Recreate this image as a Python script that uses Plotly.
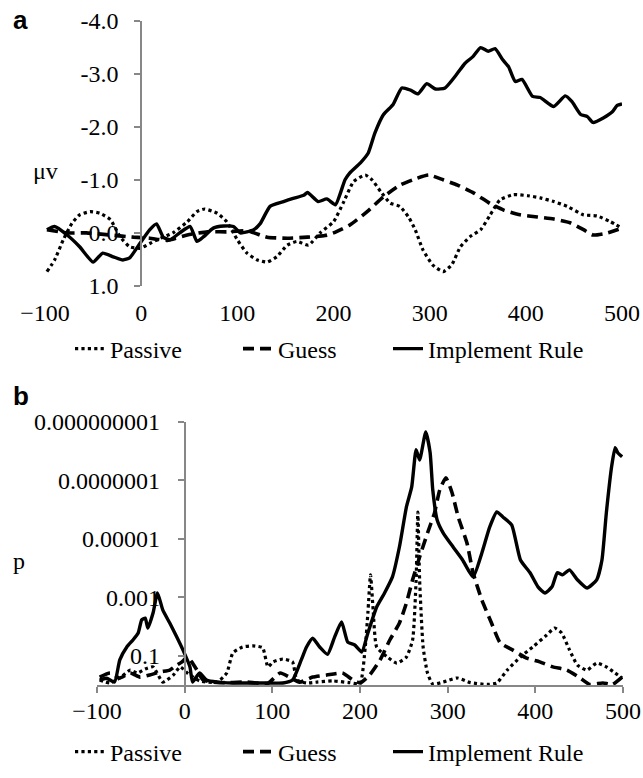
import plotly.graph_objects as go

W, H = 643, 778

# ---- panel a: ERP amplitude (uV), y axis reversed ----
t_rule_a = [-98, -90, -77, -64, -50, -40, -29, -19, -12, -1, 9, 16, 23, 30, 40, 51, 58, 65, 75, 86,
            96, 103, 117, 124, 134, 148, 158, 169, 173, 184, 193, 202, 212, 217, 228, 236, 243, 252,
            262, 271, 280, 288, 297, 306, 316, 327, 337, 345, 353, 361, 368, 376, 382, 389, 396, 407,
            415, 429, 441, 448, 457, 464, 470, 481, 490, 495, 500]
v_rule_a = [-0.06, -0.12, 0.04, 0.26, 0.55, 0.38, 0.45, 0.51, 0.47, 0.19, -0.06, -0.17, 0.08, 0.13,
            0.0, -0.12, 0.16, 0.07, -0.09, -0.13, -0.12, 0.0, -0.06, -0.18, -0.5, -0.59, -0.65, -0.71,
            -0.76, -0.59, -0.64, -0.53, -1.0, -1.13, -1.32, -1.5, -1.88, -2.23, -2.42, -2.73, -2.69,
            -2.62, -2.81, -2.71, -2.73, -2.96, -3.2, -3.32, -3.49, -3.42, -3.47, -3.26, -3.13, -2.85,
            -2.89, -2.57, -2.55, -2.38, -2.58, -2.47, -2.23, -2.19, -2.08, -2.17, -2.28, -2.4, -2.43]

t_guess_a = [-98, -77, -57, -32, -8, 9, 27, 48, 69, 89, 110, 131, 152, 173, 191, 200, 217, 235, 252,
             269, 287, 299, 314, 329, 346, 363, 377, 394, 412, 429, 446, 460, 470, 485, 500]
v_guess_a = [-0.06, 0.0, 0.0, 0.04, 0.08, 0.1, 0.14, 0.04, -0.02, -0.02, -0.04, 0.08, 0.1, 0.08,
             0.05, 0.0, -0.15, -0.4, -0.68, -0.9, -1.03, -1.09, -1.0, -0.9, -0.75, -0.55, -0.43,
             -0.34, -0.3, -0.26, -0.19, -0.06, 0.04, 0.0, -0.09]

t_passive_a = [-98, -90, -81, -72, -64, -53, -43, -32, -22, -12, -1, 9, 20, 33, 48, 58, 66, 79, 89,
               100, 110, 121, 131, 141, 152, 162, 174, 186, 200, 210, 221, 233, 240, 249, 259, 269,
               278, 285, 293, 303, 314, 323, 332, 342, 353, 363, 373, 387, 402, 415, 429, 443, 460,
               474, 488, 500]
v_passive_a = [0.73, 0.51, 0.13, -0.18, -0.34, -0.4, -0.37, -0.25, 0.07, 0.26, 0.29, 0.2, 0.1, 0.0,
               -0.21, -0.4, -0.45, -0.37, -0.21, 0.13, 0.38, 0.51, 0.55, 0.45, 0.23, 0.16, 0.23, 0.0,
               -0.21, -0.56, -0.97, -1.09, -1.0, -0.78, -0.56, -0.5, -0.3, -0.06, 0.32, 0.6, 0.73,
               0.6, 0.26, 0.07, -0.06, -0.34, -0.62, -0.72, -0.7, -0.66, -0.59, -0.5, -0.34, -0.32,
               -0.21, -0.09]

# ---- panel b: p values, given as log10(p) ----
t_rule_b = [-97, -89, -80, -74, -66, -59, -53, -49, -45, -42, -36, -31, -25, -17, -9, -2, 6, 9, 17,
            25, 37, 55, 86, 112, 123, 133, 139, 146, 154, 163, 171, 179, 186, 194, 202, 209, 219, 228,
            237, 245, 253, 259, 264, 268, 275, 280, 283, 288, 295, 306, 317, 329, 339, 348, 356, 363,
            373, 383, 394, 403, 411, 419, 425, 431, 439, 448, 459, 470, 476, 481, 487, 491, 494, 499]
lp_rule_b = [-0.17, -0.23, -0.1, -0.86, -1.3, -1.54, -1.78, -2.23, -2.29, -1.95, -2.47, -3.15, -2.57,
             -2.12, -1.64, -1.2, -0.62, -0.1, -0.41, -0.17, -0.1, -0.07, -0.07, -0.07, -0.17, -0.86,
             -1.3, -1.6, -1.3, -1.05, -1.64, -2.16, -1.47, -1.37, -1.13, -1.78, -2.67, -3.15, -3.7,
             -4.73, -6.1, -6.78, -8.05, -7.7, -8.66, -7.95, -6.68, -5.65, -5.2, -4.73, -4.28, -3.7,
             -4.52, -5.41, -5.92, -5.75, -5.48, -4.28, -3.84, -3.36, -3.15, -3.36, -3.84, -3.77,
             -3.94, -3.6, -3.32, -3.6, -4.28, -5.89, -7.47, -8.12, -7.95, -7.81]

t_guess_b = [-97, -85, -74, -62, -51, -40, -28, -17, -9, -3, 3, 8, 14, 21, 40, 70, 95, 109, 131, 146,
             162, 180, 192, 200, 211, 223, 234, 245, 253, 260, 268, 277, 285, 291, 298, 305, 312,
             322, 329, 339, 350, 360, 374, 390, 405, 420, 436, 451, 462, 477, 488, 499]
lp_guess_b = [-0.27, -0.41, -0.24, -0.41, -0.27, -0.34, -0.45, -0.51, -0.68, -0.79, -0.96, -0.79,
              -0.51, -0.17, -0.08, -0.1, -0.06, -0.41, -0.1, -0.27, -0.34, -0.41, -0.17, -0.07,
              -0.34, -0.86, -1.54, -2.12, -2.81, -3.6, -4.38, -5.2, -5.89, -6.68, -7.09, -6.58,
              -5.75, -4.86, -3.84, -2.91, -2.12, -1.44, -1.2, -0.92, -0.79, -0.62, -0.51, -0.24,
              -0.02, -0.07, -0.02, -0.27]

t_passive_b = [-97, -85, -74, -62, -54, -45, -36, -25, -13, -5, 3, 17, 37, 48, 55, 66, 78, 89, 95,
               101, 112, 123, 128, 139, 151, 169, 188, 200, 206, 209, 212, 215, 219, 231, 242, 253,
               260, 264, 266, 268, 272, 277, 283, 295, 311, 326, 345, 356, 368, 383, 397, 413, 422,
               430, 439, 448, 459, 470, 481, 491, 499]
lp_passive_b = [-0.17, -0.07, -0.24, -0.51, -0.41, -0.55, -0.62, -0.1, -0.34, -0.62, -0.41, -0.14,
                -0.1, -0.41, -1.1, -1.3, -1.34, -1.27, -0.62, -0.79, -0.89, -0.79, -0.17, -0.07,
                -0.1, -0.14, -0.08, -0.05, -1.3, -2.47, -3.77, -2.57, -1.3, -0.96, -0.75, -0.96,
                -1.54, -3.6, -5.92, -3.6, -1.3, -0.41, -0.03, -0.1, -0.24, -0.08, -0.02, -0.07,
                -0.51, -0.96, -1.3, -1.71, -1.95, -1.78, -1.2, -0.68, -0.51, -0.75, -0.62, -0.41,
                -0.24]

x_ticks = [-100, 0, 100, 200, 300, 400, 500]
a_ticks = [-4, -3, -2, -1, 0, 1]
a_ticktext = ['-4.0', '-3.0', '-2.0', '-1.0', '0.0', '1.0']
b_ticks = [1e-9, 1e-7, 1e-5, 1e-3, 1e-1]
b_ticktext = ['0.000000001', '0.0000001', '0.00001', '0.001', '0.1']

names = ['Passive', 'Guess', 'Implement Rule']
dashes = ['dot', '11px,6px', 'solid']
widths = [3.2, 3.6, 3.4]

GREY = '#878787'
FONT = '"Liberation Serif", "Times New Roman", serif'
FS = 24


def fx(px):
    return px / W


def fy(py):
    return 1 - py / H


xa = [fx(45), fx(622)]
ya = [fy(286), fy(20.5)]
xb = [fx(97), fx(623)]
yb = [fy(685), fy(422)]

# one legend per entry so the three entries sit where the reference has them
legend_x = [70, 238, 388]
legend_y = {'a': 349, 'b': 752}

fig = go.Figure()

series_a = [(t_passive_a, v_passive_a), (t_guess_a, v_guess_a), (t_rule_a, v_rule_a)]
for i, ((t, v), name, dash, w) in enumerate(zip(series_a, names, dashes, widths)):
    fig.add_trace(go.Scatter(x=t, y=v, name=name, mode='lines', xaxis='x', yaxis='y',
                             line=dict(color='black', width=w, dash=dash, shape='spline', smoothing=0.5),
                             legend='legend' if i == 0 else 'legend%d' % (i + 1)))

series_b = [(t_passive_b, lp_passive_b), (t_guess_b, lp_guess_b), (t_rule_b, lp_rule_b)]
for i, ((t, lp), name, dash, w) in enumerate(zip(series_b, names, dashes, widths)):
    p = [10 ** e for e in lp]
    fig.add_trace(go.Scatter(x=t, y=p, name=name, mode='lines', xaxis='x2', yaxis='y2',
                             line=dict(color='black', width=w, dash=dash, shape='spline', smoothing=0.5),
                             legend='legend%d' % (i + 4)))

tickfont = dict(family=FONT, size=FS, color='black')
common = dict(showgrid=False, zeroline=False, automargin=False)

fig.update_layout(
    template='none',
    width=W, height=H,
    margin=dict(l=0, r=0, t=0, b=0),
    plot_bgcolor='white', paper_bgcolor='white',
    font=dict(family=FONT, size=FS, color='black'),
    # panel a: labels at the bottom
    xaxis=dict(domain=xa, anchor='y', range=[-100, 500], tickvals=x_ticks, showline=False,
               ticks='outside', ticklen=3, tickcolor='rgba(0,0,0,0)', tickfont=tickfont,
               ticklabelstandoff=2, **common),
    # panel a: axis line drawn through 0
    xaxis3=dict(domain=xa, overlaying='x', anchor='free',
                position=ya[0] + 0.2 * (ya[1] - ya[0]), range=[-100, 500], tickvals=x_ticks,
                showline=True, linecolor=GREY, linewidth=1.5, ticks='outside', ticklen=6,
                tickcolor=GREY, tickwidth=1.5, showticklabels=False, **common),
    yaxis=dict(domain=ya, anchor='free', position=xa[0] + (xa[1] - xa[0]) / 6, range=[1, -4],
               tickvals=a_ticks, ticktext=a_ticktext, showline=True, linecolor=GREY, linewidth=1.5,
               ticks='outside', ticklen=6, tickcolor=GREY, tickwidth=1.5, tickfont=tickfont,
               ticklabelstandoff=11, **common),
    xaxis2=dict(domain=xb, anchor='y2', range=[-100, 500], tickvals=x_ticks, showline=True,
                linecolor=GREY, linewidth=1.5, ticks='outside', ticklen=6, tickcolor=GREY,
                tickwidth=1.5, tickfont=tickfont, ticklabelstandoff=-3, **common),
    yaxis2=dict(domain=yb, anchor='free', position=xb[0] + (xb[1] - xb[0]) / 6, type='log',
                range=[0, -9], tickvals=b_ticks, ticktext=b_ticktext, showline=True,
                linecolor=GREY, linewidth=1.5, ticks='outside', ticklen=6, tickcolor=GREY,
                tickwidth=1.5, tickfont=tickfont, ticklabelstandoff=13, **common),
    showlegend=True,
)

for k in range(6):
    key = 'legend' if k == 0 else 'legend%d' % (k + 1)
    row = 'a' if k < 3 else 'b'
    fig.update_layout({key: dict(orientation='h', x=fx(legend_x[k % 3]), y=fy(legend_y[row]),
                                 xanchor='left', yanchor='middle', bgcolor='rgba(0,0,0,0)',
                                 font=dict(family=FONT, size=FS, color='black'))})

label_font = dict(family='"Liberation Sans", Arial, sans-serif', size=26, color='black')
fig.add_annotation(text='<b>a</b>', x=fx(11), y=fy(20), xref='paper', yref='paper',
                   xanchor='left', yanchor='middle', showarrow=False, font=label_font)
fig.add_annotation(text='<b>b</b>', x=fx(11), y=fy(396), xref='paper', yref='paper',
                   xanchor='left', yanchor='middle', showarrow=False, font=label_font)
fig.add_annotation(text='μv', x=fx(31), y=fy(171), xref='paper', yref='paper',
                   xanchor='left', yanchor='middle', showarrow=False,
                   font=dict(family=FONT, size=FS, color='black'))
fig.add_annotation(text='p', x=fx(11), y=fy(561), xref='paper', yref='paper',
                   xanchor='left', yanchor='middle', showarrow=False,
                   font=dict(family=FONT, size=FS, color='black'))

# drop the default body margin so the 643x778 figure fills the window exactly
fig.write_html('out.html', config={'displayModeBar': False},
               post_script="document.body.style.margin='0';")
